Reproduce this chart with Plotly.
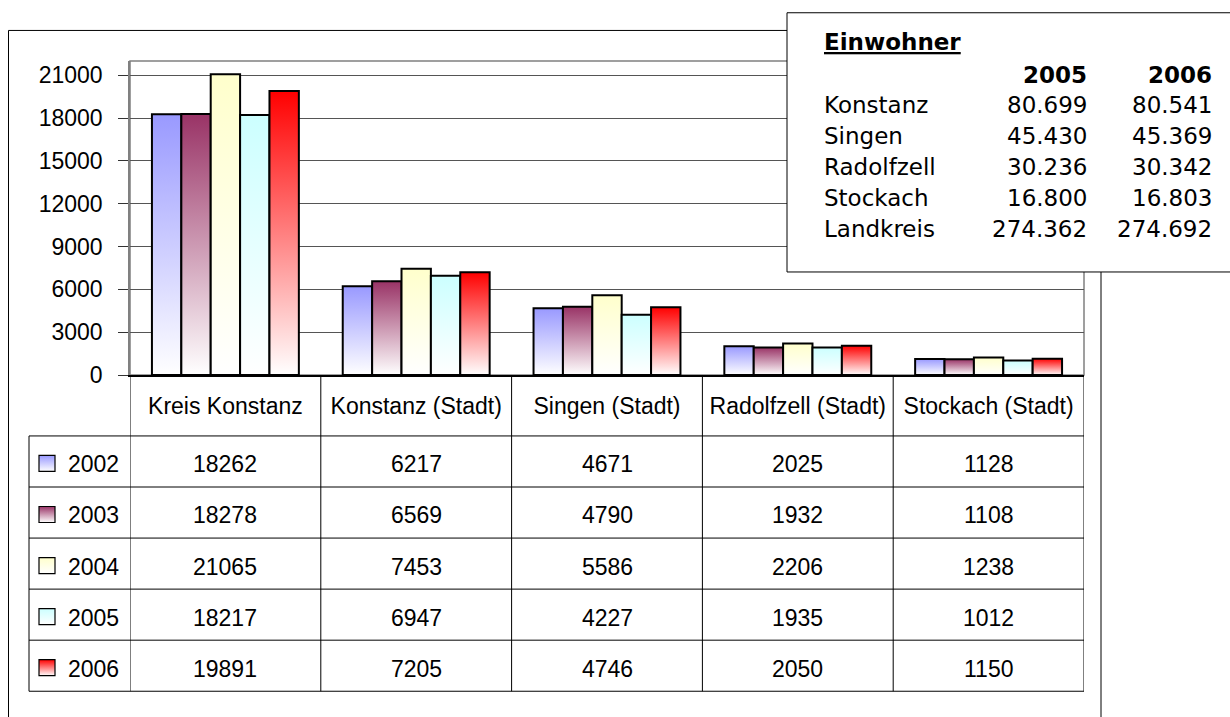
import plotly.graph_objects as go

# --- data -------------------------------------------------------------
categories = ['Kreis Konstanz', 'Konstanz (Stadt)', 'Singen (Stadt)',
              'Radolfzell (Stadt)', 'Stockach (Stadt)']
years = ['2002', '2003', '2004', '2005', '2006']
v2002 = [18262, 6217, 4671, 2025, 1128]
v2003 = [18278, 6569, 4790, 1932, 1108]
v2004 = [21065, 7453, 5586, 2206, 1238]
v2005 = [18217, 6947, 4227, 1935, 1012]
v2006 = [19891, 7205, 4746, 2050, 1150]
series = [v2002, v2003, v2004, v2005, v2006]
colors = ['#9999FF', '#993366', '#FFFFCC', '#CCFFFF', '#FF0000']

# Einwohner box
box_places = ['Konstanz', 'Singen', 'Radolfzell', 'Stockach', 'Landkreis']
box_2005 = ['80.699', '45.430', '30.236', '16.800', '274.362']
box_2006 = ['80.541', '45.369', '30.342', '16.803', '274.692']

W, H = 1230, 717


def fx(px):
    return px / W


def fy(py):
    return 1 - py / H


FONT = 'Liberation Sans, Arial, sans-serif'
BOXFONT = 'DejaVu Sans, Verdana, sans-serif'

fig = go.Figure()

# --- gradient bars ----------------------------------------------------
group_w = 0.77
bar_w = group_w / len(years)
for j, (vals, col) in enumerate(zip(series, colors)):
    for i, v in enumerate(vals):
        x0 = i - group_w / 2 + j * bar_w
        x1 = x0 + bar_w
        fig.add_trace(go.Scatter(
            x=[x0, x0, x1, x1, x0], y=[0, v, v, 0, 0],
            mode='lines', fill='toself',
            fillgradient=dict(type='vertical', colorscale=[[0, 'white'], [1, col]]),
            line=dict(color='black', width=2),
            hoverinfo='skip', showlegend=False,
        ))

# --- table --------------------------------------------------------------
row_top = 444
row_h = 52
tbl_left = 29
plot_left, plot_right, plot_top, plot_bottom = 130, 1084, 62, 382

# legend keys (small gradient squares) on a full-page helper subplot
key_y = [fy(row_top + row_h * k + row_h / 2 + 2) for k in range(len(years))]
fig.add_trace(go.Scatter(
    x=[fx(47)] * len(years), y=key_y, mode='markers',
    marker=dict(symbol='square', size=16, color=colors,
                gradient=dict(type='vertical', color='white'),
                line=dict(color='black', width=1.2)),
    xaxis='x2', yaxis='y2', hoverinfo='skip', showlegend=False,
))

shapes = []
# outer chart border
shapes.append(dict(type='rect', xref='paper', yref='paper', x0=fx(8.5), x1=fx(1101),
                   y0=fy(31), y1=fy(760), line=dict(color='black', width=1), layer='below'))
# plot area border
shapes.append(dict(type='rect', xref='paper', yref='paper', x0=fx(plot_left), x1=fx(plot_right),
                   y0=fy(plot_bottom), y1=fy(plot_top), line=dict(color='#808080', width=1.5),
                   layer='below'))
# table verticals at category boundaries
for k in range(len(categories) + 1):
    shapes.append(dict(type='line', xref='x', yref='paper', x0=k - 0.5, x1=k - 0.5,
                       y0=fy(plot_bottom), y1=fy(row_top + row_h * len(years)),
                       line=dict(color='black', width=1)))
shapes.append(dict(type='line', xref='paper', yref='paper', x0=fx(tbl_left), x1=fx(tbl_left),
                   y0=fy(row_top), y1=fy(row_top + row_h * len(years)),
                   line=dict(color='black', width=1)))
for k in range(len(years) + 1):
    yy = fy(row_top + row_h * k)
    shapes.append(dict(type='line', xref='paper', yref='paper', x0=fx(tbl_left), x1=fx(plot_right),
                       y0=yy, y1=yy, line=dict(color='black', width=1)))
# Einwohner box
shapes.append(dict(type='rect', xref='paper', yref='paper', x0=fx(787), x1=fx(1260),
                   y0=fy(277), y1=fy(13), fillcolor='white',
                   line=dict(color='black', width=1), layer='above'))

cell_font = dict(family=FONT, size=23, color='black')
box_font = dict(family=BOXFONT, size=23, color='black')

annotations = []
for k, (yr, vals) in enumerate(zip(years, series)):
    yc = fy(row_top + row_h * k + row_h / 2 + 3)
    annotations.append(dict(text=yr, xref='paper', yref='paper', x=fx(93), y=yc,
                            xanchor='center', yanchor='middle',
                            showarrow=False, font=cell_font))
    for i, v in enumerate(vals):
        annotations.append(dict(text=str(v), xref='x', yref='paper', x=i, y=yc,
                                xanchor='center', yanchor='middle',
                                showarrow=False, font=cell_font))

annotations.append(dict(text='<b><u>Einwohner</u></b>', xref='paper', yref='paper',
                        x=fx(822), y=fy(43), xanchor='left', yanchor='middle',
                        showarrow=False, font=box_font))
annotations.append(dict(text='<b>2005</b>', xref='paper', yref='paper', x=fx(1089), y=fy(76),
                        xanchor='right', yanchor='middle', showarrow=False, font=box_font))
annotations.append(dict(text='<b>2006</b>', xref='paper', yref='paper', x=fx(1214), y=fy(76),
                        xanchor='right', yanchor='middle', showarrow=False, font=box_font))
for k, (place, a, b) in enumerate(zip(box_places, box_2005, box_2006)):
    yy = fy(107 + 31.5 * k)
    annotations.append(dict(text=place, xref='paper', yref='paper', x=fx(822), y=yy,
                            xanchor='left', yanchor='middle', showarrow=False, font=box_font))
    annotations.append(dict(text=a, xref='paper', yref='paper', x=fx(1089), y=yy,
                            xanchor='right', yanchor='middle', showarrow=False, font=box_font))
    annotations.append(dict(text=b, xref='paper', yref='paper', x=fx(1214), y=yy,
                            xanchor='right', yanchor='middle', showarrow=False, font=box_font))

fig.update_layout(
    width=W, height=H,
    margin=dict(l=0, r=0, t=0, b=0),
    paper_bgcolor='white', plot_bgcolor='rgba(0,0,0,0)',
    showlegend=False,
    xaxis=dict(domain=[fx(plot_left), fx(plot_right)], range=[-0.5, 4.5],
               tickvals=list(range(len(categories))), ticktext=categories,
               ticks='', showgrid=False, zeroline=False,
               showline=True, linecolor='black', linewidth=2,
               tickfont=cell_font, ticklabelstandoff=9),
    yaxis=dict(domain=[fy(plot_bottom), fy(plot_top)], range=[0, 22000],
               tickvals=list(range(0, 21001, 3000)), tickformat='d',
               ticks='outside', ticklen=10,
               tickcolor='#333333', showgrid=True, gridcolor='#555555', gridwidth=1,
               zeroline=False, showline=True, linecolor='#808080', linewidth=1.5,
               tickfont=cell_font, ticklabelstandoff=11),
    xaxis2=dict(domain=[0, 1], range=[0, 1], visible=False, anchor='y2'),
    yaxis2=dict(domain=[0, 1], range=[0, 1], visible=False, anchor='x2'),
    shapes=shapes,
    annotations=annotations,
)

# drop the default page margin so the figure sits at the window origin
fig.write_html('out.html', config={'displayModeBar': False},
               post_script="document.body.style.margin='0';document.body.style.overflow='hidden';")
